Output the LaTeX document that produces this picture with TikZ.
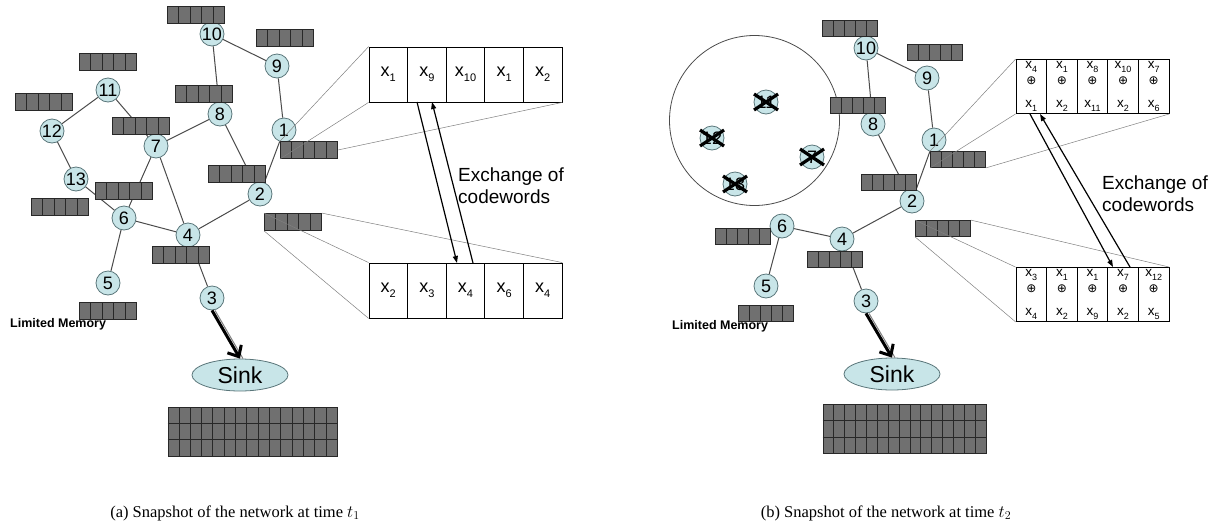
\documentclass[tikz,border=0pt]{standalone}
\usepackage{fontspec}
\setmainfont{Liberation Serif}
\setsansfont{Liberation Sans}
\newfontfamily\djv{DejaVu Sans}
\usetikzlibrary{arrows.meta,calc,shapes.geometric}
\definecolor{nodefill}{RGB}{200,229,232}
\definecolor{nodeline}{RGB}{90,118,122}
\definecolor{memfill}{RGB}{112,112,112}
\definecolor{memline}{RGB}{40,40,40}
\definecolor{edgecol}{RGB}{75,75,75}
\newcommand\xs[1]{x\raisebox{-0.3em}{\fontsize{11}{11}\selectfont #1}}
\newcommand\rx[1]{x\raisebox{-0.25em}{\fontsize{9}{9}\selectfont #1}}
\newcommand\rc[2]{\rx{#1}\\[3pt]{\djv\fontsize{12}{13}\selectfont ⊕}\\[10pt]\rx{#2}}
\newcommand\memrow[3]{%
  \node[membox] (#1) at (#2,#3) {};
  \foreach \k in {1,...,4}{\draw[memdiv] ($(#1.south west)!\k/5!(#1.south east)$) -- ($(#1.north west)!\k/5!(#1.north east)$);}
}
\newcommand\memrowr[3]{%
  \node[membox, minimum width=55pt, minimum height=16pt] (#1) at (#2,#3) {};
  \foreach \k in {1,...,4}{\draw[memdiv] ($(#1.south west)!\k/5!(#1.south east)$) -- ($(#1.north west)!\k/5!(#1.north east)$);}
}
\newcommand\memgrid[4]{%
  \node[membox, minimum width=#4, minimum height=49pt] (#1) at (#2,#3) {};
  \foreach \k in {1,...,14}{\draw[memdiv] ($(#1.south west)!\k/15!(#1.south east)$) -- ($(#1.north west)!\k/15!(#1.north east)$);}
  \foreach \k in {1,2}{\draw[memdiv] ($(#1.south west)!\k/3!(#1.north west)$) -- ($(#1.south east)!\k/3!(#1.north east)$);}
}
\begin{document}
\begin{tikzpicture}[x=1pt,y=-1pt,
  net/.style={circle, draw=nodeline, line width=0.8pt, fill=nodefill, minimum size=24pt, inner sep=0pt, font=\sffamily\fontsize{18}{18}\selectfont},
  edge/.style={draw=edgecol, line width=1pt},
  membox/.style={rectangle, draw=memline, line width=0.8pt, fill=memfill, minimum width=57pt, minimum height=17pt, inner sep=0pt},
  memdiv/.style={draw=memline, line width=0.8pt},
  cwcell/.style={rectangle, draw=black, line width=0.8pt, fill=white, minimum width=38.6pt, minimum height=55pt, inner sep=0pt, font=\sffamily\fontsize{18}{18}\selectfont},
  rcell/.style={rectangle, draw=black, line width=0.8pt, fill=white, minimum width=30.6pt, minimum height=54pt, inner sep=0pt, align=center, font=\sffamily\fontsize{13.5}{13}\selectfont},
  zoomline/.style={draw=gray, line width=0.5pt},
  xarrow/.style={draw=black, line width=1.2pt, -{Triangle[length=7pt,width=5pt]}},
  exlabel/.style={font=\sffamily\fontsize{19}{22}\selectfont, align=left, anchor=west, inner sep=0pt},
  memlabel/.style={font=\sffamily\bfseries\fontsize{12.5}{13}\selectfont, anchor=west, inner sep=0pt},
  sinkn/.style={ellipse, draw=nodeline, line width=0.8pt, fill=nodefill, minimum width=96pt, minimum height=32pt, inner sep=0pt, font=\sffamily\fontsize{23}{23}\selectfont},
  cross/.style={draw=black, line width=3.2pt},
  bigarrow/.style={draw=black, line width=3pt, -{Straight Barb[length=9pt,width=16pt]}},
  caption/.style={font=\fontsize{16.5}{17}\selectfont}
]
\useasboundingbox (0,0) rectangle (1219,531);

% ================= (a) =================
\node[net] (a10) at (212,34) {10};
\node[net] (a9) at (277,66) {9};
\node[net] (a11) at (108,90) {11};
\node[net] (a12) at (52,131) {12};
\node[net] (a8) at (220,114) {8};
\node[net] (a1) at (284,130) {1};
\node[net] (a7) at (156,146) {7};
\node[net] (a13) at (76,179) {13};
\node[net] (a2) at (260,194) {2};
\node[net] (a6) at (124,218) {6};
\node[net] (a4) at (188,235) {4};
\node[net] (a5) at (108,283) {5};
\node[net] (a3) at (212,298) {3};
\node[sinkn] (asink) at (240,375) {Sink};

\draw[edge] (a10) -- (a9);
\draw[edge] (a10) -- (a8);
\draw[edge] (a9) -- (a1);
\draw[edge] (a11) -- (a12);
\draw[edge] (a11) -- (a7);
\draw[edge] (a12) -- (a13);
\draw[edge] (a13) -- (a6);
\draw[edge] (a7) -- (a8);
\draw[edge] (a7) -- (a6);
\draw[edge] (a7) -- (a4);
\draw[edge] (a8) -- (a2);
\draw[edge] (a1) -- (a2);
\draw[edge] (a2) -- (a4);
\draw[edge] (a6) -- (a4);
\draw[edge] (a6) -- (a5);
\draw[edge] (a4) -- (a3);
\draw[draw=gray, line width=1pt] ([xshift=3pt]a3.south) -- ([xshift=3pt]asink.north);
\draw[bigarrow] (a3.south) -- (asink.north);

\memrow{ma10}{196}{14.5}
\memrow{ma9}{285}{38}
\memrow{ma11}{108}{62}
\memrow{ma12}{44}{102}
\memrow{ma8}{204}{94}
\memrow{ma7}{141}{126}
\memrow{ma1}{309}{150}
\memrow{ma2}{237}{174}
\memrow{ma6}{124}{191}
\memrow{ma13}{60}{207}
\memrow{ma2b}{293}{222}
\memrow{ma4}{181}{255}
\memrow{ma5}{108}{311}
\node[memlabel] (alim) at (10,324) {Limited Memory};
\memgrid{masink}{252.5}{431.5}{169pt}

\foreach \i/\a in {1/1,2/9,3/10,4/1,5/2}{\node[cwcell] (ta\i) at ({369+38.6*(\i-0.5)},74.5) {\xs{\a}};}
\foreach \i/\a in {1/2,2/3,3/4,4/6,5/4}{\node[cwcell] (ba\i) at ({369+38.6*(\i-0.5)},290.5) {\xs{\a}};}

\draw[zoomline] (ta1.north west) -- (ma1.north west);
\draw[zoomline] (ta1.south west) -- (ma1.south west);
\draw[zoomline] (ta5.south east) -- (ma1.east);
\draw[zoomline] (ba1.north west) -- (ma2b.north west);
\draw[zoomline] (ba1.south west) -- (ma2b.south west);
\draw[zoomline] (ba5.north east) -- (ma2b.north east);

\coordinate (aA1) at (417,102);
\coordinate (aA2) at (457,263);
\coordinate (aB1) at (473,263);
\coordinate (aB2) at (432,102);
\draw[xarrow] (aA1) -- (aA2);
\draw[xarrow] (aB1) -- (aB2);
\node[exlabel] (aex) at (458,186) {Exchange of\\codewords};

\node[caption] (capa) at (235,513) {(a) Snapshot of the network at time $t_1$};

% ================= (b) =================
\draw[draw=edgecol, line width=0.8pt] (754.5,120.5) circle[radius=85];
\node[net] (b10) at (866,48) {10};
\node[net] (b9) at (927,78) {9};
\node[net] (b8) at (873,124) {8};
\node[net] (b1) at (934,140) {1};
\node[net] (b2) at (912,201) {2};
\node[net] (b6) at (782,226) {6};
\node[net] (b4) at (842,239) {4};
\node[net] (b5) at (766,286) {5};
\node[net] (b3) at (866,301) {3};
\node[sinkn] (bsink) at (892,374) {Sink};
\node[net] (c11) at (766,102) {11};
\node[net] (c12) at (712,138) {12};
\node[net] (c7) at (812,157) {7};
\node[net] (c13) at (735,184) {13};
\foreach \c in {c11,c12,c7,c13}{
  \draw[cross] ($(\c)+(-12,-8)$) -- ($(\c)+(12,8)$);
  \draw[cross] ($(\c)+(-12,8)$) -- ($(\c)+(12,-8)$);
}

\draw[edge] (b10) -- (b9);
\draw[edge] (b10) -- (b8);
\draw[edge] (b9) -- (b1);
\draw[edge] (b8) -- (b2);
\draw[edge] (b1) -- (b2);
\draw[edge] (b2) -- (b4);
\draw[edge] (b4) -- (b6);
\draw[edge] (b6) -- (b5);
\draw[edge] (b4) -- (b3);
\draw[draw=gray, line width=1pt] ([xshift=3pt]b3.south) -- ([xshift=3pt]bsink.north);
\draw[bigarrow] (b3.south) -- (bsink.north);

\memrowr{mb10}{850}{28}
\memrowr{mb9}{935}{52}
\memrowr{mb8}{858}{105}
\memrowr{mb2}{889}{182}
\memrowr{mb1}{958}{159.5}
\memrowr{mb6}{743}{236}
\memrowr{mb2b}{943}{228.5}
\memrowr{mb4}{835}{259.5}
\memrowr{mb5}{766}{313.5}
\node[memlabel] (blim) at (672,326) {Limited Memory};
\memgrid{mbsink}{904.5}{429}{163pt}

\foreach \i/\a/\b in {1/4/1,2/1/2,3/8/11,4/10/2,5/7/6}{\node[rcell] (tb\i) at ({1016+30.6*(\i-0.5)},86.5) {\rc{\a}{\b}};}
\foreach \i/\a/\b in {1/3/4,2/1/2,3/1/9,4/7/2,5/12/5}{\node[rcell] (bb\i) at ({1016+30.6*(\i-0.5)},294.5) {\rc{\a}{\b}};}

\draw[zoomline] (tb1.north west) -- (mb1.north west);
\draw[zoomline] (tb1.south west) -- (mb1.south west);
\draw[zoomline] (tb5.south east) -- (mb1.south east);
\draw[zoomline] (bb1.north west) -- (mb2b.north west);
\draw[zoomline] (bb1.south west) -- (mb2b.south west);
\draw[zoomline] (bb5.north east) -- (mb2b.north east);

\coordinate (bA1) at (1030,114);
\coordinate (bA2) at (1113,267);
\coordinate (bB1) at (1130,267);
\coordinate (bB2) at (1040,114);
\draw[xarrow] (bA1) -- (bA2);
\draw[xarrow] (bB1) -- (bB2);
\node[exlabel] (bex) at (1102,193.5) {Exchange of\\codewords};

\node[caption] (capb) at (886,513) {(b) Snapshot of the network at time $t_2$};
\end{tikzpicture}
\end{document}
